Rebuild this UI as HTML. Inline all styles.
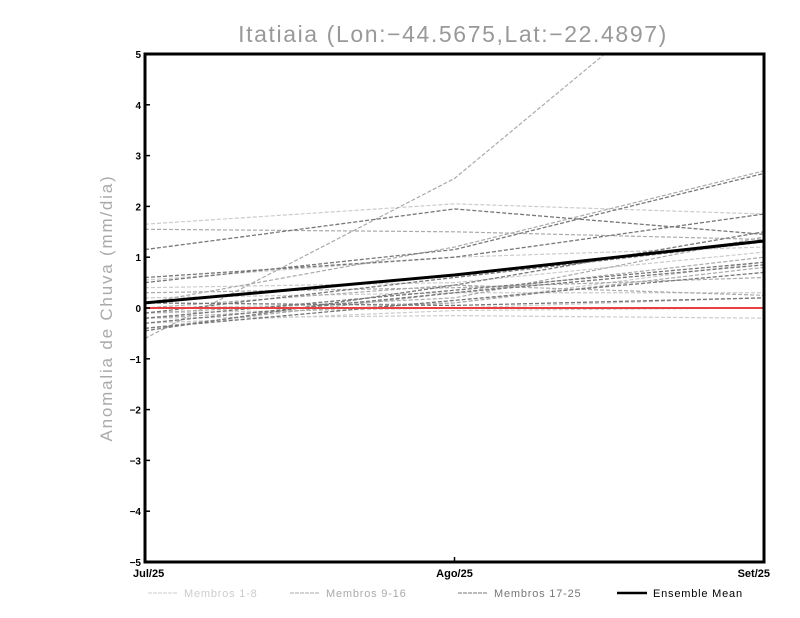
<!DOCTYPE html>
<html><head><meta charset="utf-8"><style>
body{margin:0;background:#fff;}
svg{display:block;font-family:"Liberation Sans",sans-serif;}
</style></head><body>
<svg id="chart" width="800" height="618">
<text x="453" y="42" text-anchor="middle" font-size="23" fill="#999" letter-spacing="1.6">Itatiaia (Lon:−44.5675,Lat:−22.4897)</text>
<text transform="translate(112,308) rotate(-90)" text-anchor="middle" font-size="17" fill="#aaa" letter-spacing="1.8">Anomalia de Chuva (mm/dia)</text>
<g id="plot"></g>
</svg>
<script>
const categories=["Jul/25","Ago/25","Set/25"];
const yTicks=[-5,-4,-3,-2,-1,0,1,2,3,4,5];
const members1to8=[[1.65,2.05,1.85],[0.4,0.5,1.1],[-0.2,-0.15,-0.2],[0.2,0.3,0.3],[-0.1,0.0,0.2],[0.0,0.1,0.9],[0.55,1.0,1.2],[-0.3,-0.05,0.0]];
const members9to16=[[-0.6,2.55,7.6],[1.55,1.5,1.35],[0.1,1.2,2.7],[-0.4,0.3,1.0],[-0.2,0.1,0.8],[0.0,0.45,0.25],[-0.1,0.2,1.4],[0.3,0.4,0.6]];
const members17to25=[[1.15,1.95,1.45],[0.5,1.15,2.65],[0.6,1.0,1.85],[-0.45,0.45,1.5],[-0.3,0.3,0.85],[-0.1,0.6,1.3],[0.1,0.05,0.2],[-0.4,0.15,0.7],[-0.2,0.35,0.9]];
const ensembleMean=[0.1,0.65,1.32];
const zeroLine=[0,0,0];
const L=145,R=764,T=54,B=562;
const x=i=>L+(R-L)*i/(categories.length-1);
const y=v=>B-(v+5)/10*(B-T);
const NS="http://www.w3.org/2000/svg";
const svg=document.getElementById('chart');
const g=document.getElementById('plot');
function mk(t,a,p){const e=document.createElementNS(NS,t);for(const k in a)e.setAttribute(k,a[k]);(p||g).appendChild(e);return e;}
const cp=mk('clipPath',{id:'cp'},svg);mk('rect',{x:L,y:T,width:R-L,height:B-T},cp);
const lines=mk('g',{'clip-path':'url(#cp)'});
function series(vals,color,w,dash,name){const el=mk('polyline',{points:vals.map((v,i)=>x(i)+','+y(v)).join(' '),fill:'none',stroke:color,'stroke-width':w,'stroke-dasharray':dash},lines);

}
members1to8.forEach((m,i)=>series(m,'#ccc',1.2,'4,2','member-'+(i+1)));
members9to16.forEach((m,i)=>series(m,'#aaa',1.2,'4,2','member-'+(i+9)));
members17to25.forEach((m,i)=>series(m,'#777',1.3,'4,2','member-'+(i+17)));
series(zeroLine,'#e84040',2,'none','zero-line');
series(ensembleMean,'#000',3,'none','ensemble-mean-line');
const frame=mk('rect',{x:L,y:T,width:R-L,height:B-T,fill:'none',stroke:'#000','stroke-width':3});


yTicks.forEach(v=>{mk('line',{x1:L,x2:L+5,y1:y(v),y2:y(v),stroke:'#000','stroke-width':1.5});
const t=mk('text',{x:L-4,y:y(v)+4,'text-anchor':'end','font-size':10,'font-weight':'bold'});t.textContent=(v<0?'−':'')+Math.abs(v);

});
categories.forEach((c,i)=>{mk('line',{x1:x(i),x2:x(i),y1:B,y2:B-5,stroke:'#000','stroke-width':1.5});
const t=mk('text',{x:i==0?L-12:(i==2?R+6:x(i)),y:B+15,'text-anchor':i==0?'start':(i==2?'end':'middle'),'font-size':11,'font-weight':'bold'});t.textContent=c;

});
const legend=[["Membros 1-8","#ccc",148,1,'4,1'],["Membros 9-16","#aaa",290,1,'4,1'],["Membros 17-25","#777",458,1,'4,1'],["Ensemble Mean","#000",617,2.5,'none']];
legend.forEach(l=>{const gg=mk('g',{});


mk('line',{x1:l[2],x2:l[2]+30,y1:593,y2:593,stroke:l[1],'stroke-width':l[3],'stroke-dasharray':l[4]},gg);
const t=mk('text',{x:l[2]+36,y:597,'font-size':11,'letter-spacing':0.8,fill:l[1]=='#000'?'#000':l[1]},gg);t.textContent=l[0];});
</script>
</body></html>
